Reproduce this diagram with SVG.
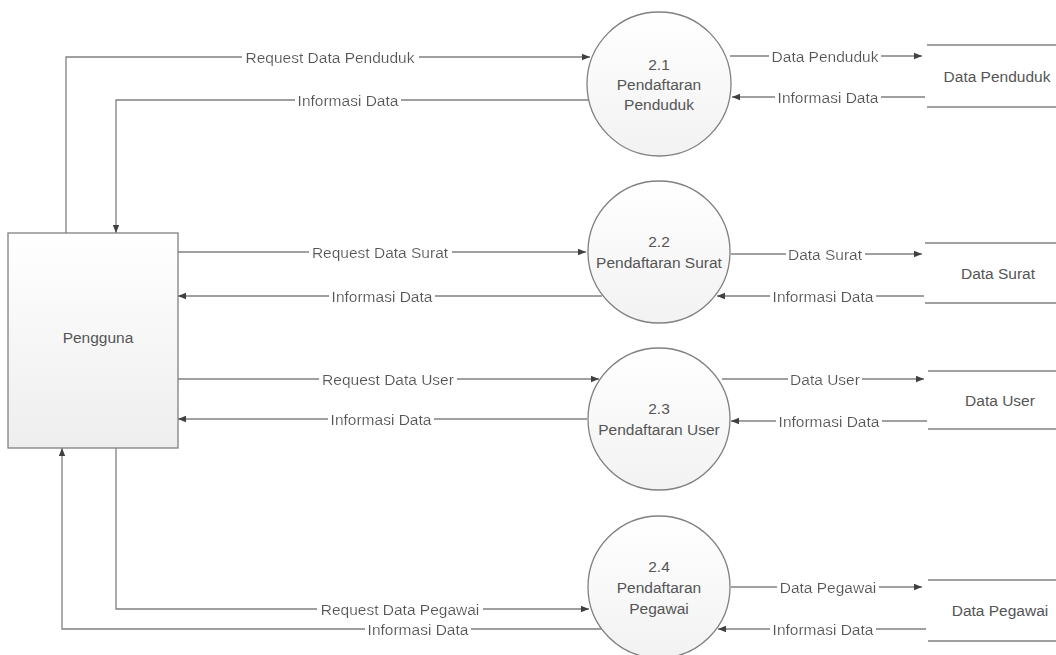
<svg xmlns="http://www.w3.org/2000/svg" width="1056" height="655" viewBox="0 0 1056 655">
<style>
text{font-family:"Liberation Sans",Arial,sans-serif;font-size:15.5px;fill:#555;text-anchor:middle;dominant-baseline:central}
.lbl{filter:url(#bg)}
.ln{fill:none;stroke:#808080;stroke-width:1.3}
.proc{fill:url(#cg);stroke:#808080;stroke-width:1.3}
.ent{fill:url(#rg);stroke:#808080;stroke-width:1.3}
.store{stroke:#808080;stroke-width:1.5}
</style>
<defs>
<filter id="bg" x="-0.02" y="0" width="1.04" height="1"><feFlood flood-color="#ffffff"/><feMerge><feMergeNode/><feMergeNode in="SourceGraphic"/></feMerge></filter>
<linearGradient id="cg" x1="0" y1="0" x2="0" y2="1"><stop offset="0" stop-color="#ffffff"/><stop offset="1" stop-color="#f2f2f2"/></linearGradient>
<linearGradient id="rg" x1="0" y1="0" x2="0" y2="1"><stop offset="0" stop-color="#ffffff"/><stop offset="1" stop-color="#eeeeee"/></linearGradient>
<marker id="ah" viewBox="0 0 10 10" refX="10" refY="5" markerWidth="8" markerHeight="8" markerUnits="userSpaceOnUse" orient="auto"><path d="M0,1 L10,5 L0,9 z" fill="#404040"/></marker>
</defs>
<rect width="1056" height="655" fill="#fff"/>
<g id="connectors">
<path class="ln" d="M66,233 V57 H590" marker-end="url(#ah)"/>
<path class="ln" d="M589,100 H116 V233" marker-end="url(#ah)"/>
<path class="ln" d="M178,252 H586" marker-end="url(#ah)"/>
<path class="ln" d="M602,296 H178" marker-end="url(#ah)"/>
<path class="ln" d="M178,379 H599" marker-end="url(#ah)"/>
<path class="ln" d="M587,419 H178" marker-end="url(#ah)"/>
<path class="ln" d="M116,448 V609 H589" marker-end="url(#ah)"/>
<path class="ln" d="M601,629 H62 V448" marker-end="url(#ah)"/>
<path class="ln" d="M730,56 H922" marker-end="url(#ah)"/>
<path class="ln" d="M925,97 H732" marker-end="url(#ah)"/>
<path class="ln" d="M731,254 H922" marker-end="url(#ah)"/>
<path class="ln" d="M924,296 H717" marker-end="url(#ah)"/>
<path class="ln" d="M722,379 H924" marker-end="url(#ah)"/>
<path class="ln" d="M927,421 H731" marker-end="url(#ah)"/>
<path class="ln" d="M731,587 H922" marker-end="url(#ah)"/>
<path class="ln" d="M926,629 H718" marker-end="url(#ah)"/>
<text class="lbl" x="330" y="57">Request Data Penduduk</text>
<text class="lbl" x="348" y="100">Informasi Data</text>
<text class="lbl" x="380" y="252">Request Data Surat</text>
<text class="lbl" x="382" y="296">Informasi Data</text>
<text class="lbl" x="388" y="379">Request Data User</text>
<text class="lbl" x="381" y="419">Informasi Data</text>
<text class="lbl" x="400" y="609">Request Data Pegawai</text>
<text class="lbl" x="418" y="629">Informasi Data</text>
<text class="lbl" x="825" y="56">Data Penduduk</text>
<text class="lbl" x="828" y="97">Informasi Data</text>
<text class="lbl" x="825" y="254">Data Surat</text>
<text class="lbl" x="823" y="296">Informasi Data</text>
<text class="lbl" x="825" y="379">Data User</text>
<text class="lbl" x="829" y="421">Informasi Data</text>
<text class="lbl" x="828" y="587">Data Pegawai</text>
<text class="lbl" x="823" y="629">Informasi Data</text>
</g>
<g id="pengguna">
<rect class="ent" x="8" y="233" width="170" height="215"/>
<text x="98" y="337">Pengguna</text>
</g>
<g id="p21">
<circle class="proc" cx="659" cy="84" r="72"/>
<text x="659" y="64">2.1</text>
<text x="659" y="84">Pendaftaran</text>
<text x="659" y="104">Penduduk</text>
</g>
<g id="p22">
<circle class="proc" cx="659" cy="252" r="71"/>
<text x="659" y="241">2.2</text>
<text x="659" y="262">Pendaftaran Surat</text>
</g>
<g id="p23">
<circle class="proc" cx="659" cy="419" r="71"/>
<text x="659" y="408">2.3</text>
<text x="659" y="429">Pendaftaran User</text>
</g>
<g id="p24">
<circle class="proc" cx="659" cy="587" r="71"/>
<text x="659" y="566">2.4</text>
<text x="659" y="587">Pendaftaran</text>
<text x="659" y="608">Pegawai</text>
</g>
<g id="ds-penduduk">
<line class="store" x1="927" y1="45" x2="1056" y2="45"/>
<line class="store" x1="927" y1="107" x2="1056" y2="107"/>
<text x="997" y="76">Data Penduduk</text>
</g>
<g id="ds-surat">
<line class="store" x1="925" y1="243" x2="1056" y2="243"/>
<line class="store" x1="925" y1="303" x2="1056" y2="303"/>
<text x="998" y="273">Data Surat</text>
</g>
<g id="ds-user">
<line class="store" x1="928" y1="371" x2="1056" y2="371"/>
<line class="store" x1="928" y1="429" x2="1056" y2="429"/>
<text x="1000" y="400">Data User</text>
</g>
<g id="ds-pegawai">
<line class="store" x1="928" y1="580" x2="1056" y2="580"/>
<line class="store" x1="928" y1="641" x2="1056" y2="641"/>
<text x="1000" y="610">Data Pegawai</text>
</g>
</svg>
